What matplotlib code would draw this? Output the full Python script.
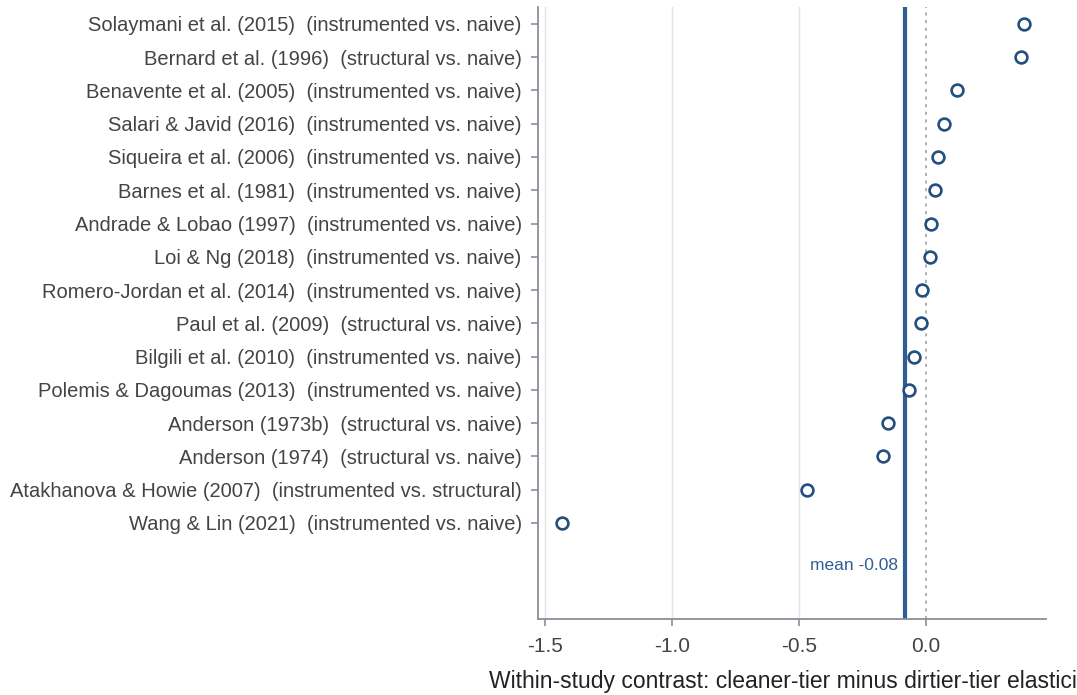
import matplotlib
matplotlib.use("Agg")
import matplotlib.pyplot as plt
import numpy as np

plt.rcParams['font.family'] = ['Liberation Sans', 'DejaVu Sans']

studies = [
    "Solaymani et al. (2015)  (instrumented vs. naive)",
    "Bernard et al. (1996)  (structural vs. naive)",
    "Benavente et al. (2005)  (instrumented vs. naive)",
    "Salari & Javid (2016)  (instrumented vs. naive)",
    "Siqueira et al. (2006)  (instrumented vs. naive)",
    "Barnes et al. (1981)  (instrumented vs. naive)",
    "Andrade & Lobao (1997)  (instrumented vs. naive)",
    "Loi & Ng (2018)  (instrumented vs. naive)",
    "Romero-Jordan et al. (2014)  (instrumented vs. naive)",
    "Paul et al. (2009)  (structural vs. naive)",
    "Bilgili et al. (2010)  (instrumented vs. naive)",
    "Polemis & Dagoumas (2013)  (instrumented vs. naive)",
    "Anderson (1973b)  (structural vs. naive)",
    "Anderson (1974)  (structural vs. naive)",
    "Atakhanova & Howie (2007)  (instrumented vs. structural)",
    "Wang & Lin (2021)  (instrumented vs. naive)",
]
contrast = [0.385, 0.375, 0.120, 0.072, 0.047, 0.036, 0.019, 0.014,
            -0.018, -0.022, -0.047, -0.069, -0.149, -0.171, -0.468, -1.435]
xticks = [-1.5, -1.0, -0.5, 0.0]
xlabel = "Within-study contrast: cleaner-tier minus dirtier-tier elasticity"

mean_val = float(np.mean(contrast))

text_color = "#444444"
spine_color = "#8a8f99"
blue_dark = "#234e7d"
blue_line = "#2e5e93"

fig = plt.figure(figsize=(10.77, 6.95), dpi=100)
ax = fig.add_axes([538.3/1077, (695-619.3)/695, (1046-538.3)/1077, (619.3-7)/695])

y = np.arange(len(studies))
for xv in xticks[:-1]:
    ax.axvline(xv, color="#e3e3e8", lw=1.0, zorder=0)
ax.axvline(0.0, color="#999999", lw=1.1, ls=(0, (2, 3)), zorder=1)
ax.axvline(mean_val, color=blue_line, lw=3.0, zorder=2)
ax.scatter(contrast, y, s=72, facecolor="white", edgecolor=blue_dark, linewidth=1.9, zorder=3)

ax.text(mean_val - 0.03, 16.28, f"mean {mean_val:.2f}", color=blue_line,
        fontsize=12.5, ha="right", va="center")

ax.set_yticks(y)
ax.set_yticklabels(studies)
ax.set_xticks(xticks)
ax.set_xticklabels([f"{v:.1f}" for v in xticks])
ax.set_xlim(-1.527, 0.472)
ax.set_ylim(17.9, -0.51)

for s in ["top", "right"]:
    ax.spines[s].set_visible(False)
for s in ["left", "bottom"]:
    ax.spines[s].set_color(spine_color)
    ax.spines[s].set_linewidth(1.3)

ax.tick_params(axis="y", length=5, width=1.2, color=spine_color, labelcolor=text_color,
               labelsize=14.5, pad=7)
ax.tick_params(axis="x", length=5, width=1.2, color=spine_color, labelcolor=text_color,
               labelsize=15, pad=8)
ax.set_xlabel(xlabel, fontsize=16.5, color="#222222", labelpad=10)

fig.savefig("out.png", dpi=100)
